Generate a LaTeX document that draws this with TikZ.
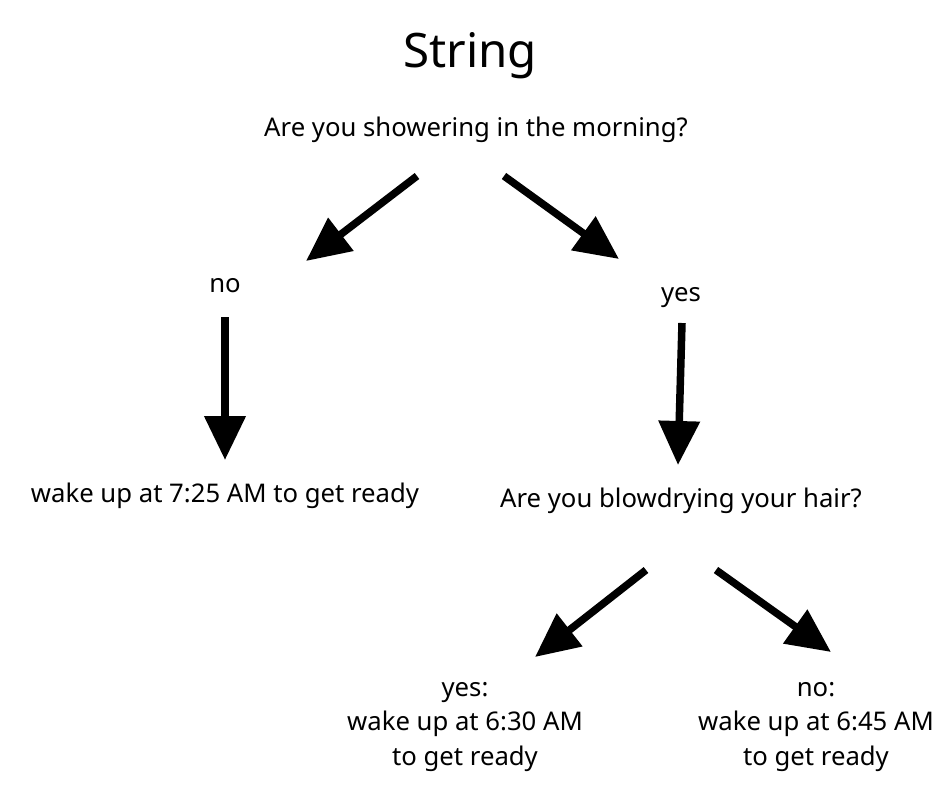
\documentclass[tikz,border=0pt]{standalone}
\usepackage{fontspec}
\setmainfont{Noto Sans}
\usetikzlibrary{arrows.meta}
\begin{document}
\begin{tikzpicture}[x=1pt,y=-1pt,
  txt/.style={inner sep=0pt,align=center,font=\fontsize{25.7}{34.5}\selectfont},
  arr/.style={line width=7.5pt,-{Triangle[length=44pt,width=40pt]}}]
\useasboundingbox[fill=white] (0,0) rectangle (940,788);
\node[inner sep=0pt,font=\fontsize{47.5}{50}\selectfont] (title) at (470,56) {String};
\node[txt] (q1) at (476,130) {Are you showering in the morning?};
\node[txt] (no1) at (225,286) {no};
\node[txt] (yes1) at (681,298) {yes};
\node[txt] (wake725) at (225,496) {wake up at 7:25 AM to get ready};
\node[txt] (q2) at (681,501) {Are you blowdrying your hair?};
\node[txt] (yes2) at (465,727) {yes:\\wake up at 6:30 AM\\to get ready};
\node[txt] (no2) at (816,727) {no:\\wake up at 6:45 AM\\to get ready};
\coordinate (a1s) at (417,176); \coordinate (a1e) at (306,261);
\coordinate (a2s) at (504,176); \coordinate (a2e) at (619,259);
\coordinate (a3s) at (225,317); \coordinate (a3e) at (225,460);
\coordinate (a4s) at (682,323); \coordinate (a4e) at (678,465);
\coordinate (a5s) at (646,570); \coordinate (a5e) at (535,657);
\coordinate (a6s) at (716,570); \coordinate (a6e) at (831,652);
\draw[arr] (a1s) -- (a1e);
\draw[arr] (a2s) -- (a2e);
\draw[arr] (a3s) -- (a3e);
\draw[arr] (a4s) -- (a4e);
\draw[arr] (a5s) -- (a5e);
\draw[arr] (a6s) -- (a6e);
\end{tikzpicture}
\end{document}
